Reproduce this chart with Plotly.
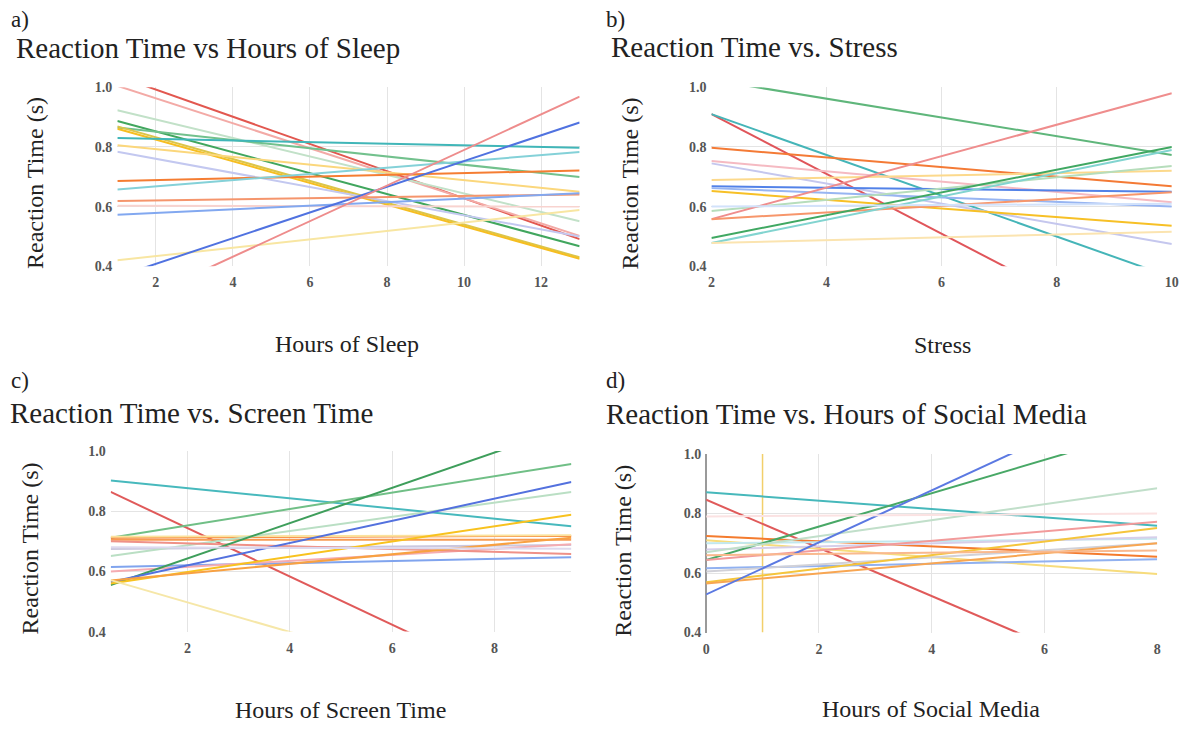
import plotly.graph_objects as go

W, H = 1190, 730

# ---- Panel a: reaction time trend lines vs hours of sleep (value at x = 1 and x = 13)
sleep_x = [1, 13]
sleep_start = [1.038, 1.005, 0.923, 0.887, 0.865, 0.869, 0.861, 0.830, 0.806,
               0.784, 0.686, 0.657, 0.619, 0.603, 0.573, 0.420, 0.365, 0.253]
sleep_end = [0.491, 0.502, 0.551, 0.467, 0.699, 0.430, 0.425, 0.797, 0.650,
             0.500, 0.721, 0.783, 0.641, 0.600, 0.645, 0.589, 0.882, 0.969]

# ---- Panel b: reaction time vs stress (value at x = 2 and x = 10)
stress_x = [2, 10]
stress_start = [1.025, 0.910, 0.910, 0.797, 0.753, 0.745, 0.689, 0.668, 0.662,
                0.652, 0.585, 0.558, 0.558, 0.495, 0.478, 0.478, 0.600]
stress_end = [0.773, 0.108, 0.363, 0.668, 0.615, 0.475, 0.720, 0.650, 0.600,
              0.536, 0.736, 0.980, 0.648, 0.800, 0.790, 0.516, 0.610]

# ---- Panel c: reaction time vs screen time (value at x = 0.5 and x = 9.5)
screen_x = [0.5, 9.5]
screen_start = [0.902, 0.864, 0.712, 0.712, 0.705, 0.715, 0.674, 0.651, 0.615,
                0.600, 0.700, 0.555, 0.565, 0.560, 0.570, 0.571, 0.680]
screen_end = [0.750, 0.142, 0.957, 0.718, 0.705, 0.720, 0.688, 0.864, 0.647,
              0.690, 0.658, 1.083, 0.897, 0.788, 0.712, 0.128, 0.675]

# ---- Panel d: reaction time vs hours of social media (value at x = 0 and x = 8)
social_x = [0, 8]
social_start = [0.871, 0.846, 0.724, 0.710, 0.700, 0.679, 0.644, 0.644, 0.670,
                0.616, 0.605, 0.569, 0.565, 0.528, 0.660, 0.790]
social_end = [0.759, 0.199, 0.655, 0.597, 0.715, 0.720, 1.092, 0.772, 0.885,
              0.646, 0.700, 0.751, 0.700, 1.227, 0.676, 0.800]
# one participant reported a single value of social-media hours
social_vertical_x = 1
social_vertical_y = [0.4, 1.0]

# ---- Line colours per panel
sleep_colors = ["#e2574f", "#f3aaa6", "#c2e1c8", "#41a65e", "#72c18d", "#dcc54a",
                "#f6be20", "#40b6b8", "#fbd77c", "#c3c8f0", "#f57d32", "#84d1d8",
                "#f5956c", "#f8d3cf", "#82a8f0", "#f8e6a2", "#5072e0", "#ee8c8c"]
stress_colors = ["#5fb67b", "#e0555a", "#45b5b8", "#f47a35", "#f5bac2", "#c5c7ee",
                 "#fcd98c", "#5282e8", "#97b5f2", "#f7c026", "#b6ddbb", "#ef8d8d",
                 "#f7966b", "#40a862", "#82d4d0", "#fbe4b0", "#d2e2fb"]
screen_colors = ["#47b9bd", "#e05a5a", "#70bf86", "#f6792c", "#f79b52", "#fbe29c",
                 "#cbc8df", "#badfc4", "#80a4ee", "#f5acb2", "#ef9187", "#3e9e5b",
                 "#5371de", "#f8c21e", "#f8a142", "#f6e7a8", "#ddd9ee"]
social_colors = ["#46b8bb", "#e05a5a", "#f47b2e", "#f7dc7c", "#c2e8ee", "#d6cfea",
                 "#48a866", "#f29b9b", "#c1dfca", "#91b1f0", "#d1d1d8", "#f5c53c",
                 "#f8a652", "#5b79e2", "#f9b98e", "#fbe2e2"]

FONT = "Liberation Serif"
TEXT = "#222222"

fig = go.Figure()


def add_lines(xs, starts, ends, colors, xa, ya):
    for s, e, c in zip(starts, ends, colors):
        fig.add_trace(go.Scatter(x=xs, y=[s, e], mode="lines",
                                 line=dict(color=c, width=2),
                                 xaxis=xa, yaxis=ya, hoverinfo="skip",
                                 showlegend=False))


add_lines(sleep_x, sleep_start, sleep_end, sleep_colors, "x", "y")
add_lines(stress_x, stress_start, stress_end, stress_colors, "x2", "y2")
add_lines(screen_x, screen_start, screen_end, screen_colors, "x3", "y3")
fig.add_trace(go.Scatter(x=[social_vertical_x, social_vertical_x], y=social_vertical_y,
                         mode="lines", line=dict(color="#f2cf6a", width=1.5),
                         xaxis="x4", yaxis="y4", hoverinfo="skip", showlegend=False))
add_lines(social_x, social_start, social_end, social_colors, "x4", "y4")


def px_x(p):
    return p / W


def px_y(p):
    return 1 - p / H


# plot areas in pixels: (left, right, top, bottom)
boxes = {
    "a": (114.4, 581.0, 82.0, 264.7),
    "b": (714.0, 1178.7, 82.0, 264.7),
    "c": (107.7, 572.7, 453.3, 637.7),
    "d": (708.7, 1164.0, 456.3, 638.7),
}
xranges = {"a": sleep_x, "b": stress_x, "c": screen_x, "d": social_x}

tickfont = dict(family=FONT, size=14, color="#555555", weight="bold")
layout = dict(width=W, height=H, margin=dict(l=0, r=0, t=0, b=0), autosize=False,
              paper_bgcolor="white", plot_bgcolor="white", showlegend=False)

for i, key in enumerate(["a", "b", "c", "d"]):
    l, r, t, b = boxes[key]
    sx = "" if i == 0 else str(i + 1)
    layout["xaxis" + sx] = dict(
        domain=[px_x(l), px_x(r)], range=xranges[key], anchor="y" + sx,
        tick0=0, dtick=2, showgrid=True, gridcolor="#e4e4e4", gridwidth=1,
        zeroline=(key == "d"), zerolinecolor="#9a9a9a", zerolinewidth=1.5,
        showline=False, ticks="", tickfont=tickfont, ticklabelstandoff=6,
    )
    layout["yaxis" + sx] = dict(
        domain=[px_y(b), px_y(t)], range=[0.4, 1.0], anchor="x" + sx,
        tick0=0.4, dtick=0.2, tickformat=".1f", showgrid=True,
        gridcolor="#e4e4e4", gridwidth=1, zeroline=False, showline=False,
        ticks="", tickfont=tickfont, ticklabelstandoff=4,
    )

fig.update_layout(**layout)

annotations = []


def text(x, y, s, size, xanchor="left", angle=0):
    annotations.append(dict(x=px_x(x), y=px_y(y), xref="paper", yref="paper",
                            text=s, showarrow=False, xanchor=xanchor,
                            yanchor="middle", textangle=angle, borderpad=0,
                            font=dict(family=FONT, size=size, color=TEXT)))


# panel letters
text(6, 13, "a)", 23)
text(607, 13, "b)", 23)
text(6, 381, "c)", 23)
text(607, 381, "d)", 23)
# panel titles
text(11, 42, "Reaction Time vs Hours of Sleep", 29)
text(612, 41, "Reaction Time vs. Stress", 29)
text(5, 415, "Reaction Time vs. Screen Time", 29)
text(607, 416, "Reaction Time vs. Hours of Social Media", 29)
# axis titles
text(32, 180, "Reaction Time (s)", 24, "center", -90)
text(632, 180, "Reaction Time (s)", 24, "center", -90)
text(26, 553, "Reaction Time (s)", 24, "center", -90)
text(624, 555, "Reaction Time (s)", 24, "center", -90)
text(346, 344, "Hours of Sleep", 24, "center")
text(947, 345, "Stress", 24, "center")
text(340, 718, "Hours of Screen Time", 24, "center")
text(936, 717, "Hours of Social Media", 24, "center")

fig.update_layout(annotations=annotations)
fig.write_html("out.html")
